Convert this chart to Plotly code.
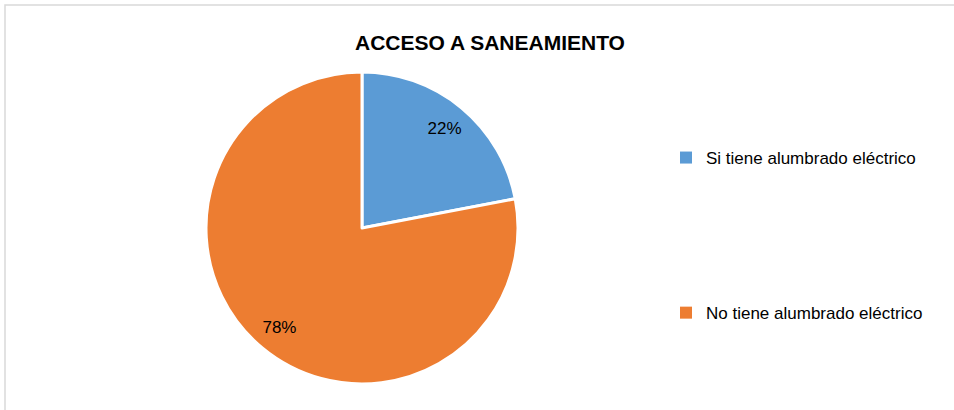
import plotly.graph_objects as go

labels = ["Si tiene alumbrado eléctrico", "No tiene alumbrado eléctrico"]
values = [22, 78]
colors = ["#5B9BD5", "#ED7D31"]
title_text = "ACCESO A SANEAMIENTO"

W, H = 954, 410
FONT = "Liberation Sans, Arial, sans-serif"
pie_domain = dict(x=[(362 - 156) / W, (362 + 156) / W],
                  y=[(H - 384) / H, (H - 72) / H])

fig = go.Figure()
# solid slices
fig.add_trace(go.Pie(
    labels=labels, values=values,
    marker=dict(colors=colors, line=dict(color="white", width=3)),
    sort=False, direction="clockwise", rotation=0,
    textinfo="none", showlegend=False, hoverinfo="label+percent",
    domain=pie_domain,
))
# transparent ring carrying the percentage labels further out
fig.add_trace(go.Pie(
    labels=labels, values=values, hole=0.66,
    marker=dict(colors=["rgba(0,0,0,0)"] * len(values), line=dict(width=0)),
    sort=False, direction="clockwise", rotation=0,
    textinfo="percent", texttemplate="%{percent:.0%}",
    textposition="inside", insidetextorientation="horizontal",
    textfont=dict(family=FONT, size=17, color="#000000"),
    showlegend=False, hoverinfo="skip",
    domain=pie_domain,
))
for i, (lab, col) in enumerate(zip(labels, colors)):
    fig.add_trace(go.Scatter(
        x=[None], y=[None], mode="markers", name=lab,
        legendgroup=f"g{i}",
        marker=dict(symbol="square", size=7, color=col),
    ))

fig.update_layout(
    width=W, height=H,
    margin=dict(l=0, r=0, t=0, b=0),
    paper_bgcolor="white", plot_bgcolor="white",
    font=dict(family=FONT, color="#000000"),
    title=dict(text=f"<b>{title_text}</b>", x=490 / W, xanchor="center",
               y=1 - 43 / H, yanchor="middle", yref="container",
               font=dict(family=FONT, size=21, color="#000000")),
    xaxis=dict(visible=False), yaxis=dict(visible=False),
    legend=dict(x=666 / W, xanchor="left", y=1 - 140 / H, yanchor="top",
                tracegroupgap=130, font=dict(family=FONT, size=17, color="#000000"),
                bgcolor="rgba(0,0,0,0)", itemsizing="constant"),
    shapes=[dict(type="rect", xref="paper", yref="paper",
                 x0=5 / W, x1=1.01, y0=-0.01, y1=1 - 5 / H,
                 line=dict(color="#d9d9d9", width=1.5), layer="below")],
)

fig.write_html("out.html", config={"displayModeBar": False},
               post_script="document.body.style.margin='0';")
